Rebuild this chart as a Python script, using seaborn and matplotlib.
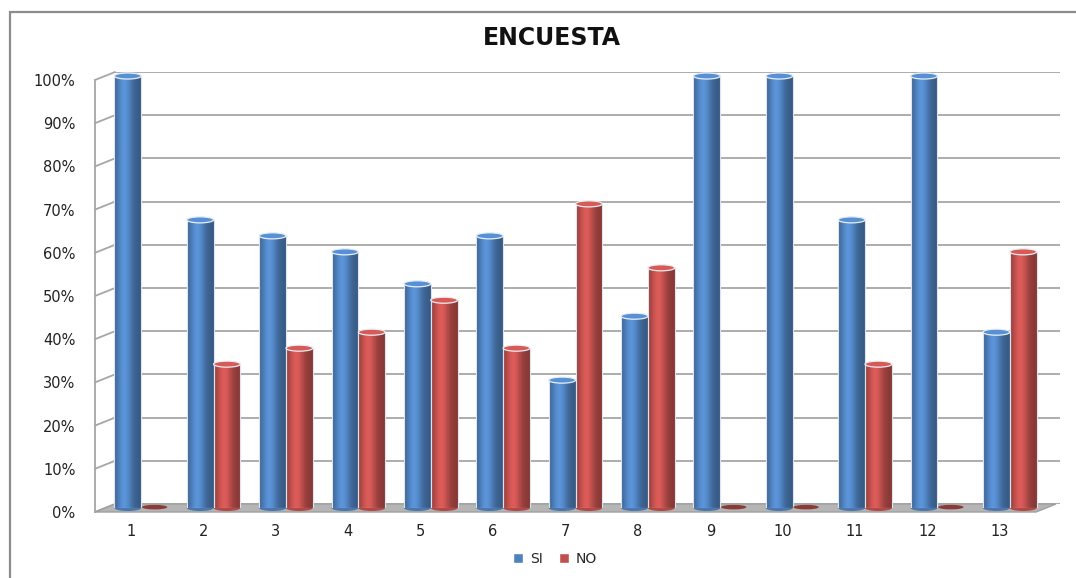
import numpy as np
import pandas as pd
import matplotlib
matplotlib.use("Agg")
import matplotlib.pyplot as plt
import seaborn as sns
from matplotlib.patches import Ellipse, Polygon, Patch
from matplotlib.lines import Line2D
from matplotlib.colors import to_rgb
from matplotlib.ticker import PercentFormatter, MultipleLocator

# Survey results: share of "SI" / "NO" answers per question
preguntas = [str(i) for i in range(1, 14)]
si = [1.0, 0.667, 0.630, 0.593, 0.519, 0.630, 0.296, 0.444, 1.0, 1.0, 0.667, 1.0, 0.407]
no = [0.0, 0.333, 0.370, 0.407, 0.481, 0.370, 0.704, 0.556, 0.0, 0.0, 0.333, 0.0, 0.593]
series = ["SI", "NO"]
colores = {"SI": "#4F81BD", "NO": "#C0504D"}
titulo = "ENCUESTA"

df = pd.DataFrame({
    "Pregunta": preguntas * 2,
    "Respuesta": ["SI"] * len(si) + ["NO"] * len(no),
    "Valor": si + no,
})

W, H = 1076, 578
sns.set_theme(style="white")
plt.rcParams["font.family"] = ["DejaVu Sans"]
fig = plt.figure(figsize=(W / 100, H / 100), dpi=100)
fig.patch.set_facecolor("white")


def rect(l, t, r, b):
    return [l / W, 1 - b / H, (r - l) / W, (b - t) / H]


# pseudo-3D depth offset (pixels)
DX, DY = 20, 8
front = fig.add_axes(rect(95, 80, 1036, 512), zorder=3)
mid = fig.add_axes(rect(95 + DX / 2, 80 - DY / 2, 1036 + DX / 2, 512 - DY / 2), zorder=2)
back = fig.add_axes(rect(95 + DX, 80 - DY, 1060, 512 - DY), zorder=0)

grid_col = "#a6a6a6"

# back wall with gridlines
back.set_ylim(0, 1)
back.set_xlim(0, 1)
back.yaxis.set_major_locator(MultipleLocator(0.1))
back.set_xticks([])
back.tick_params(left=False, labelleft=False)
back.grid(axis="y", color=grid_col, lw=1.3)
for s in back.spines.values():
    s.set_visible(False)

# bars
sns.barplot(data=df, x="Pregunta", y="Valor", hue="Respuesta", hue_order=series,
            order=preguntas, palette=colores, width=0.74, saturation=1,
            legend=False, ax=mid)
mid.set_xlim(-0.5, len(preguntas) - 0.5)
mid.set_ylim(0, 1)


def shade(rgb, f):
    return tuple(np.clip(np.array(rgb) * f, 0, 1))


t = np.linspace(0, 1, 80)
profile = 0.70 + 0.45 * np.exp(-((t - 0.38) / 0.30) ** 2)
eh = 0.014
for bar in list(mid.patches):
    x0, w, h = bar.get_x(), bar.get_width(), bar.get_height()
    base = to_rgb(bar.get_facecolor())
    cx = x0 + w / 2
    if h > 0:
        mid.add_patch(Ellipse((cx, 0), w, eh, facecolor=shade(base, 0.92),
                              edgecolor="none", zorder=1.9, clip_on=False))
        img = np.clip(np.outer(profile, base), 0, 1)[None, :, :]
        im = mid.imshow(img, extent=[x0, x0 + w, 0, h], aspect="auto",
                        interpolation="bilinear", zorder=2.1)
        im.set_clip_path(bar)
        bar.set_facecolor("none")
        bar.set_edgecolor("#dde4ee")
        bar.set_linewidth(0.8)
        bar.set_zorder(2.15)
        mid.add_patch(Ellipse((cx, h), w, eh, facecolor=shade(base, 1.12),
                              edgecolor="#e8edf4", lw=0.9, zorder=2.2, clip_on=False))
    else:
        bar.set_visible(False)
        mid.add_patch(Ellipse((cx, 0.002), w * 0.95, eh * 0.75, facecolor=shade(base, 0.72),
                              edgecolor="none", zorder=2.2, clip_on=False))
mid.set_xlim(-0.5, len(preguntas) - 0.5)
mid.set_ylim(0, 1)
mid.axis("off")

# front frame: axis labels and side wall edge
front.set_xlim(-0.5, len(preguntas) - 0.5)
front.set_ylim(0, 1)
front.patch.set_visible(False)
front.set_xticks(range(len(preguntas)))
front.set_xticklabels(preguntas)
front.yaxis.set_major_locator(MultipleLocator(0.1))
front.yaxis.set_major_formatter(PercentFormatter(1.0, decimals=0))
front.tick_params(axis="y", length=0, pad=14, labelsize=10.5, labelcolor="#222222")
front.tick_params(axis="x", length=0, pad=9, labelsize=10.5, labelcolor="#222222")
for name, s in front.spines.items():
    s.set_visible(name == "left")
front.spines["left"].set_color(grid_col)
front.spines["left"].set_linewidth(1.3)

inv = fig.transFigure.inverted()

# side wall diagonals
for v in np.arange(0, 1.001, 0.1):
    p1 = inv.transform(front.transAxes.transform((0, v)))
    p2 = inv.transform(back.transAxes.transform((0, v)))
    fig.add_artist(Line2D([p1[0], p2[0]], [p1[1], p2[1]], color=grid_col, lw=1.3,
                          transform=fig.transFigure, zorder=1))

# floor slab
fl = front.transAxes.transform((0, 0))
fr = front.transAxes.transform((1, 0))
pts_px = [fl, fr, fr + np.array([DX, DY]), fl + np.array([DX, DY])]
pts = inv.transform(np.array(pts_px))
fig.add_artist(Polygon(pts, closed=True, facecolor="#b5b5b5", edgecolor="#a0a0a0",
                       lw=1.0, transform=fig.transFigure, zorder=1))

# outer chart border
border = "#8c8c8c"
fig.add_artist(Line2D([10 / W, 10 / W], [0, 1 - 12 / H], color=border, lw=1.6,
                      transform=fig.transFigure))
fig.add_artist(Line2D([10 / W, 1], [1 - 12 / H, 1 - 12 / H], color=border, lw=1.6,
                      transform=fig.transFigure))

fig.text(552 / W, 1 - 38 / H, titulo, ha="center", va="center",
         fontsize=17, fontweight="bold", color="#111111")

handles = [Patch(facecolor=colores[s], label=s) for s in series]
fig.legend(handles=handles, loc="center", bbox_to_anchor=(555 / W, 1 - 559 / H),
           ncol=2, frameon=False, fontsize=10, handlelength=0.7, handleheight=0.7,
           handletextpad=0.5, columnspacing=1.2)

fig.savefig("out.png", dpi=100)
